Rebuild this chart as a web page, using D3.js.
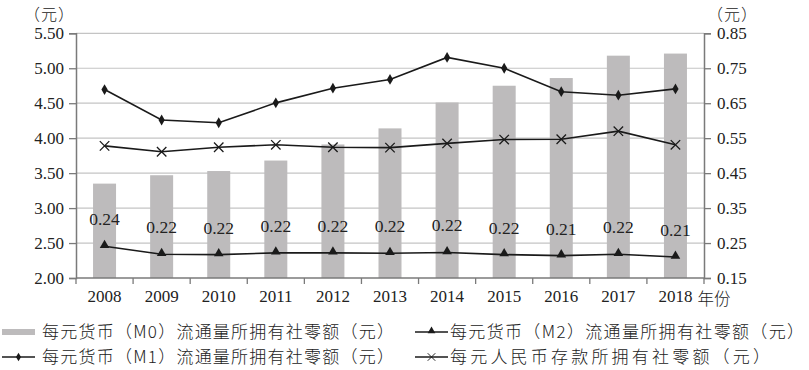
<!DOCTYPE html>
<html><head><meta charset="utf-8">
<script src="https://cdn.jsdelivr.net/npm/d3@7"></script>
<style>
html,body{margin:0;padding:0;background:#fff;}
svg{display:block;}
text{font-family:"Liberation Serif","Times New Roman",serif;fill:#222;}
.cjk{font-family:"Noto Sans CJK SC","Noto Sans CJK JP",sans-serif;font-weight:300;}
</style></head>
<body>
<script>
const years = ["2008","2009","2010","2011","2012","2013","2014","2015","2016","2017","2018"];
const m0 = [3.35,3.47,3.53,3.68,3.91,4.14,4.51,4.75,4.86,5.18,5.21];
const m1 = [0.689,0.602,0.594,0.651,0.693,0.718,0.781,0.750,0.683,0.673,0.691];
const m2 = [0.241,0.218,0.217,0.222,0.222,0.221,0.223,0.217,0.214,0.218,0.210];
const deposit = [0.528,0.511,0.524,0.531,0.524,0.523,0.535,0.546,0.547,0.570,0.531];
const leftTicks = [2.00,2.50,3.00,3.50,4.00,4.50,5.00,5.50];
const rightTicks = [0.15,0.25,0.35,0.45,0.55,0.65,0.75,0.85];
const legendLabels = ["每元货币（M0）流通量所拥有社零额（元）","每元货币（M2）流通量所拥有社零额（元）","每元货币（M1）流通量所拥有社零额（元）","每元人民币存款所拥有社零额（元）"];
const unitLabel = "（元）";
const xUnit = "年份";

const W=809,H=370;
const L=76,R=704,T=33.3,B=278;
const svg=d3.select("body").append("svg").attr("width",W).attr("height",H);

const x=d3.scaleBand().domain(years).range([L,R]).paddingInner(0).paddingOuter(0);
const yL=d3.scaleLinear().domain([2,5.5]).range([B,T]);
const yR=d3.scaleLinear().domain([0.15,0.85]).range([B,T]);
const cx=d=>x(d)+x.bandwidth()/2;

// gridlines
svg.append("g").selectAll("line").data(leftTicks.slice(1)).join("line")
  .attr("x1",L).attr("x2",R).attr("y1",d=>yL(d)).attr("y2",d=>yL(d))
  .attr("stroke","#c4c4c4").attr("stroke-width",1.2);

// bars
const bw=23;
svg.append("g").selectAll("rect").data(years).join("rect")
  .attr("x",(d)=>cx(d)-bw/2).attr("width",bw)
  .attr("y",(d,i)=>yL(m0[i])).attr("height",(d,i)=>B-yL(m0[i]))
  .attr("fill","#bdbbbc");

// axes
function styleAxis(g){
  g.select(".domain").attr("stroke","#7a7a7a").attr("stroke-width",1.5);
  g.selectAll(".tick line").attr("stroke","#7a7a7a").attr("stroke-width",1.3);
  g.selectAll("text").attr("font-family","Liberation Serif").attr("font-size",17).attr("fill","#222");
}
const axL=svg.append("g").attr("transform",`translate(${L},0)`)
  .call(d3.axisLeft(yL).tickValues(leftTicks).tickFormat(d3.format(".2f")).tickSizeOuter(0).tickSize(7).tickPadding(5));
styleAxis(axL);
const axR=svg.append("g").attr("transform",`translate(${R},0)`)
  .call(d3.axisRight(yR).tickValues(rightTicks).tickFormat(d3.format(".2f")).tickSizeOuter(0).tickSize(7).tickPadding(6));
styleAxis(axR);
const axB=svg.append("g").attr("transform",`translate(0,${B})`)
  .call(d3.axisBottom(x).tickSize(0).tickPadding(12));
styleAxis(axB);
axB.select(".domain").attr("d",`M${L},0H${R}`);
const bounds=years.map(d=>x(d)).concat([R]);
axB.append("g").selectAll("line").data(bounds).join("line")
  .attr("x1",d=>d).attr("x2",d=>d).attr("y1",0).attr("y2",6)
  .attr("stroke","#7a7a7a").attr("stroke-width",1.3);

svg.append("text").attr("class","cjk").attr("x",cx("2018")+22).attr("y",305)
  .attr("font-size",16.5).text(xUnit);
svg.append("text").attr("class","cjk").attr("x",24).attr("y",20).attr("font-size",16).attr("textLength",50).text(unitLabel);
svg.append("text").attr("class","cjk").attr("x",707).attr("y",20).attr("font-size",16).attr("textLength",50).text(unitLabel);

// lines
const line=d3.line().x(d=>cx(d.year)).y(d=>yR(d.v));
function series(arr){return years.map((y,i)=>({year:y,v:arr[i]}));}
const lineColor="#1a1a1a";
[m1,deposit,m2].forEach(arr=>{
  svg.append("path").datum(series(arr)).attr("d",line)
    .attr("fill","none").attr("stroke",lineColor).attr("stroke-width",1.6);
});
const diamond=d3.symbol().type(d3.symbolDiamond).size(34);
const tri=d3.symbol().type(d3.symbolTriangle).size(40);
const cross=d3.symbol().type(d3.symbolX).size(60);
svg.append("g").selectAll("path").data(series(m1)).join("path")
  .attr("transform",d=>`translate(${cx(d.year)},${yR(d.v)})`).attr("d",diamond).attr("fill",lineColor);
svg.append("g").selectAll("path").data(series(m2)).join("path")
  .attr("transform",d=>`translate(${cx(d.year)},${yR(d.v)-1})`).attr("d",tri).attr("fill",lineColor);
svg.append("g").selectAll("path").data(series(deposit)).join("path")
  .attr("transform",d=>`translate(${cx(d.year)},${yR(d.v)})`).attr("d",cross)
  .attr("fill","none").attr("stroke",lineColor).attr("stroke-width",1.3);

// data labels M2
svg.append("g").selectAll("text").data(series(m2)).join("text")
  .attr("x",d=>cx(d.year)).attr("y",d=>yR(d.v)-21).attr("text-anchor","middle")
  .attr("font-size",17.5).text(d=>d3.format(".2f")(d.v));

// legend
const lg=svg.append("g");
const items=[
  {x:2,y:332,type:"bar",len:352},
  {x:415,y:332,type:"tri",len:354},
  {x:2,y:357,type:"diamond",len:352},
  {x:415,y:357,type:"cross",len:320}
];
items.forEach((it,i)=>{
  const g=lg.append("g").attr("transform",`translate(${it.x},${it.y})`);
  if(it.type==="bar"){
    g.append("rect").attr("x",0).attr("y",-3).attr("width",33).attr("height",6).attr("fill","#bdbbbc");
  } else {
    g.append("line").attr("x1",0).attr("x2",33).attr("y1",0).attr("y2",0).attr("stroke",lineColor).attr("stroke-width",1.6);
    const sym=it.type==="tri"?tri:it.type==="diamond"?diamond:cross;
    const p=g.append("path").attr("d",sym);
    if(it.type==="cross") p.attr("fill","none").attr("stroke",lineColor).attr("stroke-width",1.2).attr("transform","translate(16.5,0) scale(0.8)");
    else p.attr("fill",lineColor).attr("transform",`translate(16.5,${it.type==="tri"?-1:0}) scale(0.8)`);
  }
  const tx = it.x===2 ? 40 : 35;
  g.append("text").attr("class","cjk").attr("x",tx).attr("y",6).attr("font-size",17)
    .attr("textLength",it.len).attr("lengthAdjust","spacing").text(legendLabels[i]);
});
</script>
</body></html>
